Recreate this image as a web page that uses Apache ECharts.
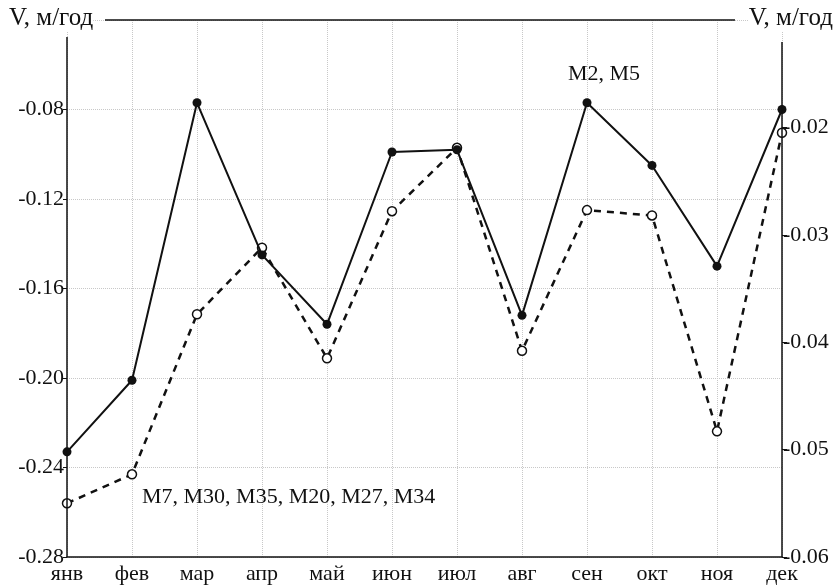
<!DOCTYPE html>
<html>
<head>
<meta charset="utf-8">
<script src="https://cdn.jsdelivr.net/npm/echarts@6/dist/echarts.min.js"></script>
<style>
html,body{margin:0;padding:0;background:#fff;}
#chart{width:837px;height:587px;}
</style>
</head>
<body>
<div id="chart"></div>
<script>
// ---- data ----
var months = ['янв','фев','мар','апр','май','июн','июл','авг','сен','окт','ноя','дек'];
var solidValues = [-0.233, -0.201, -0.077, -0.145, -0.176, -0.099, -0.098, -0.172, -0.077, -0.105, -0.150, -0.080];
var dashedValues = [-0.0550, -0.0523, -0.0374, -0.0312, -0.0415, -0.0278, -0.0219, -0.0408, -0.0277, -0.0282, -0.0483, -0.0205];
var axisTitle = 'V, м/год';
var noteTop = 'M2, M5';
var noteBottom = 'M7, M30, M35, M20, M27, M34';
var leftMin = -0.28, leftMax = -0.04, leftStep = 0.04;
var rightMin = -0.06, rightMax = -0.01, rightStep = 0.01;

var FONT = '"Liberation Serif", "DejaVu Serif", serif';
var INK = '#111';
var GRID = '#c8c8c8';

var chart = echarts.init(document.getElementById('chart'), null, {renderer: 'canvas'});

var option = {
  backgroundColor: '#fff',
  animation: false,
  textStyle: {fontFamily: FONT, color: INK},
  grid: {left: 67, right: 55, top: 20, bottom: 30, containLabel: false, outerBoundsMode: 'none'},
  xAxis: {
    type: 'category',
    data: months,
    boundaryGap: false,
    axisLine: {show: true, lineStyle: {color: INK, width: 1.5}},
    axisTick: {show: false},
    axisLabel: {fontFamily: FONT, fontSize: 22, color: INK, margin: 6, interval: 0},
    splitLine: {show: true, lineStyle: {color: GRID, type: 'dotted', width: 1}}
  },
  yAxis: [
    {
      type: 'value',
      position: 'left',
      min: leftMin, max: leftMax, interval: leftStep,
      axisLine: {show: false},
      axisTick: {show: true, inside: false, length: 4, lineStyle: {color: INK, width: 1}},
      axisLabel: {
        fontFamily: FONT, fontSize: 22, color: INK, margin: 3,
        showMaxLabel: false,
        formatter: function (v) { return v.toFixed(2); }
      },
      splitLine: {show: true, lineStyle: {color: GRID, type: 'dotted', width: 1}}
    },
    {
      type: 'value',
      position: 'right',
      min: rightMin, max: rightMax, interval: rightStep,
      axisLine: {show: false},
      axisTick: {show: true, inside: false, length: 5, lineStyle: {color: INK, width: 1}},
      axisLabel: {
        fontFamily: FONT, fontSize: 22, color: INK, margin: 1,
        showMaxLabel: false,
        formatter: function (v) { return v.toFixed(2); }
      },
      splitLine: {show: false}
    }
  ],
  series: [
    {
      name: 'dashed',
      type: 'line',
      yAxisIndex: 1,
      data: dashedValues,
      symbol: 'circle',
      symbolSize: 9,
      showAllSymbol: true,
      lineStyle: {color: INK, width: 2.5, type: [7, 6]},
      itemStyle: {color: '#fff', borderColor: INK, borderWidth: 1.5},
      z: 3
    },
    {
      name: 'solid',
      type: 'line',
      yAxisIndex: 0,
      data: solidValues,
      symbol: 'circle',
      symbolSize: 9,
      showAllSymbol: true,
      lineStyle: {color: INK, width: 2},
      itemStyle: {color: INK, borderColor: INK, borderWidth: 0},
      z: 4
    }
  ],
  graphic: [
    // top frame line between the two axis titles
    {type: 'line', z: 100, shape: {x1: 105, y1: 20, x2: 735, y2: 20}, style: {stroke: INK, lineWidth: 1.5}},
    // vertical axis lines (start below the titles)
    {type: 'line', z: 100, shape: {x1: 67, y1: 37, x2: 67, y2: 557}, style: {stroke: INK, lineWidth: 1.5}},
    {type: 'line', z: 100, shape: {x1: 782, y1: 42, x2: 782, y2: 557}, style: {stroke: INK, lineWidth: 1.5}},
    // axis titles
    {type: 'text', z: 101, left: 9, top: 6,
      style: {text: axisTitle, font: '25px ' + FONT, fill: INK, backgroundColor: '#fff'}},
    {type: 'text', z: 101, right: 4, top: 6,
      style: {text: axisTitle, font: '25px ' + FONT, fill: INK, backgroundColor: '#fff'}},
    // notes
    {type: 'text', z: 101, left: 568, top: 63,
      style: {text: noteTop, font: '22px ' + FONT, fill: INK}},
    {type: 'text', z: 101, left: 142, top: 486,
      style: {text: noteBottom, font: '22px ' + FONT, fill: INK}}
  ]
};

chart.setOption(option);
</script>
</body>
</html>
